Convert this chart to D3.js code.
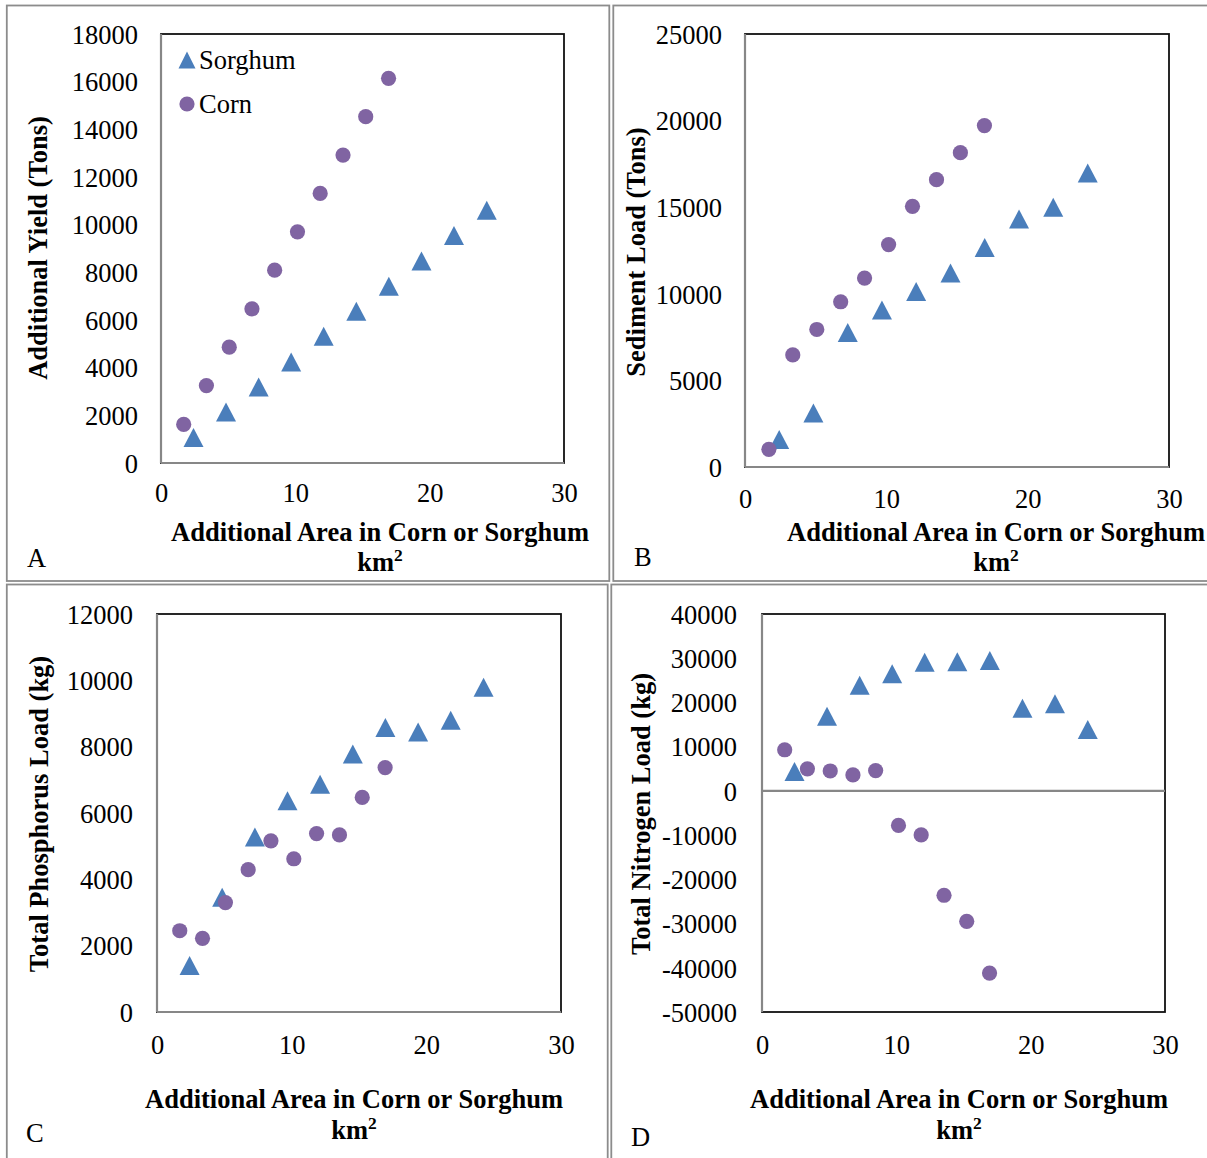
<!DOCTYPE html>
<html>
<head>
<meta charset="utf-8">
<script src="https://cdn.jsdelivr.net/npm/d3@7"></script>
<style>
  html, body { margin: 0; padding: 0; background: #fff; }
  svg { display: block; }
  text { font-family: "Liberation Serif", "Times New Roman", serif; fill: #000; }
</style>
</head>
<body>
<svg id="chart" width="1207" height="1158"></svg>
<script>
// ---------------- data ----------------
const seriesNames = ["Sorghum", "Corn"];
const panelLetters = ["A", "B", "C", "D"];
const yTitles = ["Additional Yield (Tons)", "Sediment Load (Tons)", "Total Phosphorus Load (kg)", "Total Nitrogen Load (kg)"];
const xTitleLine1 = "Additional Area in Corn or Sorghum";
const xTitleUnit = "km";
const xTitleSup = "2";
const xTickValues = [0, 10, 20, 30];

const sorghumArea = [2.42, 4.84, 7.27, 9.69, 12.11, 14.54, 16.96, 19.39, 21.81, 24.25];
const cornArea    = [1.69, 3.38, 5.08, 6.77, 8.46, 10.16, 11.85, 13.55, 15.24, 16.94];

const yieldSorghum    = [1070, 2140, 3190, 4240, 5320, 6370, 7420, 8480, 9550, 10610];
const yieldCorn       = [1620, 3250, 4860, 6470, 8090, 9700, 11310, 12920, 14530, 16140];
const sedimentSorghum = [1590, 3120, 7770, 9060, 10140, 11200, 12680, 14320, 14990, 16970];
const sedimentCorn    = [1020, 6470, 7940, 9540, 10910, 12840, 15050, 16590, 18150, 19710];
const phosSorghum     = [1400, 3460, 5280, 6370, 6870, 7780, 8580, 8440, 8800, 9790];
const phosCorn        = [2450, 2220, 3300, 4290, 5160, 4620, 5380, 5340, 6470, 7370];
const nitroSorghum    = [4400, 16900, 23900, 26500, 29100, 29200, 29500, 18700, 19700, 13900];
const nitroCorn       = [9300, 5000, 4500, 3600, 4600, -7800, -9950, -23600, -29500, -41200];

const yTicksA = [0, 2000, 4000, 6000, 8000, 10000, 12000, 14000, 16000, 18000];
const yTicksB = [0, 5000, 10000, 15000, 20000, 25000];
const yTicksC = [0, 2000, 4000, 6000, 8000, 10000, 12000];
const yTicksD = [-50000, -40000, -30000, -20000, -10000, 0, 10000, 20000, 30000, 40000];

// ---------------- layout / style ----------------
const FS = 26.5;
const BLUE = "#4a7ebb", PURPLE = "#8064a2", AXIS_GREY = "#878787", CELL_GREY = "#8c8c8c";
const fmt = d => String(d); // plain hyphen-minus like the reference

const panels = [
  { sorghum: yieldSorghum, corn: yieldCorn, ticks: yTicksA, letter: panelLetters[0], title: yTitles[0],
    L: 161, R: 564, T: 34, B: 463, yLabR: 138, yTitX: 38, yTitY: 248, xTickY: 493, xTitX: 380, xTitY: 532, kmY: 562, letX: 27, letY: 558, legend: true },
  { sorghum: sedimentSorghum, corn: sedimentCorn, ticks: yTicksB, letter: panelLetters[1], title: yTitles[1],
    L: 745, R: 1169, T: 34, B: 467, yLabR: 722, yTitX: 636, yTitY: 252, xTickY: 499, xTitX: 996, xTitY: 532, kmY: 562, letX: 634, letY: 557 },
  { sorghum: phosSorghum, corn: phosCorn, ticks: yTicksC, letter: panelLetters[2], title: yTitles[2],
    L: 157, R: 561, T: 614, B: 1012, yLabR: 133, yTitX: 39, yTitY: 814, xTickY: 1045, xTitX: 354, xTitY: 1099, kmY: 1130, letX: 26, letY: 1133 },
  { sorghum: nitroSorghum, corn: nitroCorn, ticks: yTicksD, letter: panelLetters[3], title: yTitles[3],
    L: 762, R: 1165, T: 614, B: 1012, yLabR: 737, yTitX: 641, yTitY: 814, xTickY: 1045, xTitX: 959, xTitY: 1099, kmY: 1130, letX: 631, letY: 1137 }
];

const svg = d3.select("#chart");

// table cell borders
const cells = [
  { x: 6.8, y: 5.5, w: 609.3 - 6.8, h: 581 - 5.5 },
  { x: 613.3, y: 5.5, w: 700, h: 581 - 5.5 },
  { x: 6.8, y: 584.5, w: 607.7 - 6.8, h: 700 },
  { x: 611.3, y: 584.5, w: 700, h: 700 }
];
svg.selectAll("rect.cell").data(cells).join("rect")
  .attr("class", "cell")
  .attr("x", d => d.x).attr("y", d => d.y).attr("width", d => d.w).attr("height", d => d.h)
  .attr("fill", "none").attr("stroke", CELL_GREY).attr("stroke-width", 1.8);

function triPath(w, h) {
  return `M0,${-h / 2}L${w / 2},${h / 2}L${-w / 2},${h / 2}Z`;
}

panels.forEach(p => {
  const g = svg.append("g");
  const x = d3.scaleLinear().domain([0, 30]).range([p.L, p.R]);
  const y = d3.scaleLinear().domain([p.ticks[0], p.ticks[p.ticks.length - 1]]).range([p.B, p.T]);

  // plot area border
  g.append("rect").attr("x", p.L).attr("y", p.T).attr("width", p.R - p.L).attr("height", p.B - p.T)
    .attr("fill", "#fff").attr("stroke", "#111").attr("stroke-width", 1.8);

  // y axis (line + labels)
  const yAxis = d3.axisLeft(y).tickValues(p.ticks).tickSize(0).tickPadding(0).tickFormat(fmt);
  const yg = g.append("g").attr("transform", `translate(${p.yLabR},0)`).call(yAxis);
  yg.attr("font-family", null).attr("font-size", null);
  yg.select(".domain").remove();
  yg.selectAll("text").attr("font-size", FS).attr("dy", "0.35em").attr("x", 0).attr("fill", "#000");
  g.append("line").attr("x1", p.L).attr("x2", p.L).attr("y1", p.T).attr("y2", p.B)
    .attr("stroke", AXIS_GREY).attr("stroke-width", 2.2);

  // x axis line at y=0
  g.append("line").attr("x1", p.L).attr("x2", p.R).attr("y1", y(0)).attr("y2", y(0))
    .attr("stroke", AXIS_GREY).attr("stroke-width", 2.2);

  // x tick labels
  const xAxis = d3.axisBottom(x).tickValues(xTickValues).tickSize(0).tickPadding(0).tickFormat(fmt);
  const xg = g.append("g").attr("transform", `translate(0,${p.xTickY})`).call(xAxis);
  xg.attr("font-family", null).attr("font-size", null);
  xg.select(".domain").remove();
  xg.selectAll("text").attr("font-size", FS).attr("dy", "0.35em").attr("y", 0).attr("fill", "#000");

  // axis titles
  g.append("text").attr("transform", `translate(${p.yTitX},${p.yTitY}) rotate(-90)`)
    .attr("text-anchor", "middle").attr("dy", "0.35em").attr("font-weight", "bold").attr("font-size", FS)
    .text(p.title);
  g.append("text").attr("x", p.xTitX).attr("y", p.xTitY).attr("dy", "0.35em")
    .attr("text-anchor", "middle").attr("font-weight", "bold").attr("font-size", FS).text(xTitleLine1);
  const km = g.append("text").attr("x", p.xTitX).attr("y", p.kmY + FS * 0.35)
    .attr("text-anchor", "middle").attr("font-weight", "bold").attr("font-size", FS);
  km.append("tspan").text(xTitleUnit);
  km.append("tspan").attr("font-size", FS * 0.66).attr("dy", -FS * 0.38).text(xTitleSup);

  // panel letter
  g.append("text").attr("x", p.letX).attr("y", p.letY).attr("dy", "0.35em")
    .attr("font-size", FS).text(p.letter);

  // sorghum triangles
  g.selectAll("path.sorghum").data(p.sorghum).join("path")
    .attr("class", "sorghum")
    .attr("d", triPath(20, 19))
    .attr("transform", (d, i) => `translate(${x(sorghumArea[i])},${y(d)})`)
    .attr("fill", BLUE);

  // corn circles
  g.selectAll("circle.corn").data(p.corn).join("circle")
    .attr("class", "corn")
    .attr("cx", (d, i) => x(cornArea[i])).attr("cy", d => y(d)).attr("r", 7.6)
    .attr("fill", PURPLE);

  if (p.legend) {
    const lg = g.append("g");
    lg.append("path").attr("d", triPath(17, 17)).attr("transform", "translate(187,60)").attr("fill", BLUE);
    lg.append("text").attr("x", 199).attr("y", 60).attr("dy", "0.35em").attr("font-size", FS).text(seriesNames[0]);
    lg.append("circle").attr("cx", 187).attr("cy", 104).attr("r", 7.6).attr("fill", PURPLE);
    lg.append("text").attr("x", 199).attr("y", 104).attr("dy", "0.35em").attr("font-size", FS).text(seriesNames[1]);
  }
});
</script>
</body>
</html>
